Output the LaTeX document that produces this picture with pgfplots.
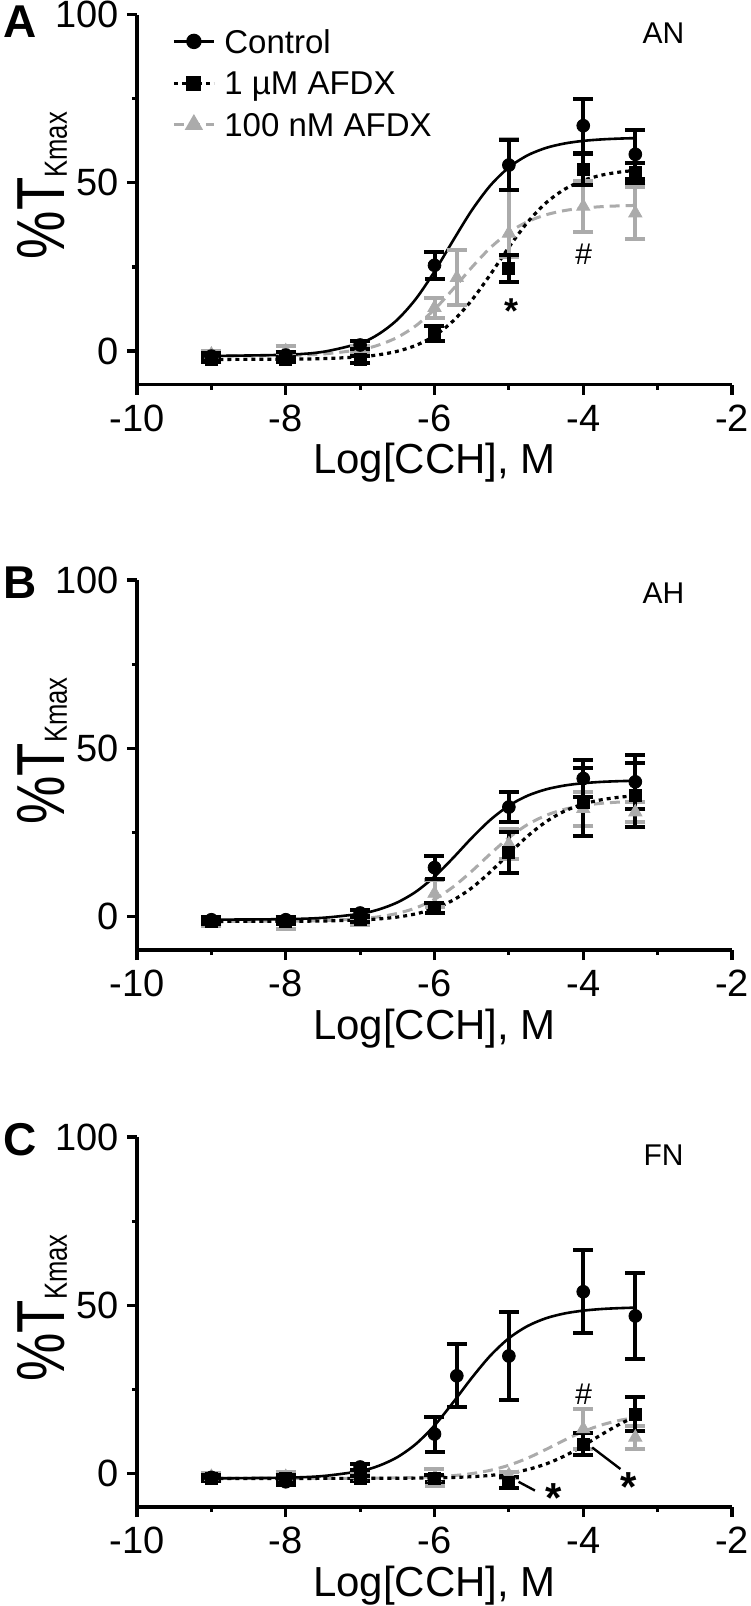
\documentclass[border=0pt]{standalone}
\usepackage{fontspec}
\setmainfont{Liberation Sans}
\usepackage{graphicx}
\usepackage{pgfplots}
\usepackage{pgfplotstable}
\pgfplotsset{compat=1.18}
\definecolor{lgray}{gray}{0.67}

% ---------------- data: panel A ----------------
\pgfplotstableread{
x y ep em
-9 -1.5 0.8 0.8
-8 -1.2 0.8 0.8
-7 1.8 1.2 1.2
-6 25.5 4 4
-5 55.3 7.4 7.4
-4 67 8 8
-3.3 58.5 7.3 7.3
}\Actl
\pgfplotstableread{
x y ep em
-9 -2.5 0.8 0.8
-8 -2.5 0.8 0.8
-7 -2.5 1 1
-6 5.2 2.2 2.2
-5 24.5 4 4
-4 54 4.5 4.5
-3.3 53 3 3
}\Aum
\pgfplotstableread{
x y ep em
-9 -1 1 1
-8 0 1.5 1.5
-7 0.5 1 1
-6 12.9 3 3
-5.7 21.8 8.2 8.2
-5 35 28 7
-4 43 7.5 7.5
-3.3 41 7.7 7.7
}\Anm
\pgfplotstableread{
x c m g
-9 -1.46 -2.49 -1.48
-8 -1.09 -2.42 -1.30
-7.5 -0.23 -2.25 -0.87
-7 2.36 -1.71 0.42
-6.75 5.06 -1.10 1.81
-6.5 9.32 -0.06 4.07
-6.25 15.52 1.69 7.54
-6 23.65 4.55 12.39
-5.75 32.87 8.95 18.42
-5.5 41.80 15.10 24.85
-5.25 49.20 22.73 30.69
-5 54.60 30.87 35.26
-4.75 58.18 38.27 38.46
-4.5 60.40 44.07 40.52
-4.25 61.72 48.12 41.78
-4 62.49 50.73 42.51
-3.75 62.93 52.32 42.94
-3.5 63.18 53.25 43.18
-3.3 63.30 53.70 43.30
}\Afit

% ---------------- data: panel B ----------------
\pgfplotstableread{
x y ep em
-9 -1 0.8 0.8
-8 -1 0.8 0.8
-7 1 1 1
-6 14.5 3.5 3.5
-5 32.5 4.5 4.5
-4 41 5.5 5.5
-3.3 40 8 8
}\Bctl
\pgfplotstableread{
x y ep em
-9 -1.5 0.8 0.8
-8 -1.5 0.8 0.8
-7 -1 0.8 0.8
-6 2.5 1.5 1.5
-5 19 6 6
-4 34 10 10
-3.3 36 9.5 9.5
}\Bum
\pgfplotstableread{
x y ep em
-9 -2 1 1
-8 -2.5 1.2 1.2
-7 -1.5 1 1
-6 6.8 4 4
-5 21.5 4.5 4.5
-4 32 5 5
-3.3 31 3 3
}\Bnm
\pgfplotstableread{
x c m g
-9 -0.98 -1.50 -1.49
-8 -0.82 -1.46 -1.42
-7.5 -0.42 -1.37 -1.25
-7 0.77 -1.08 -0.71
-6.75 2.05 -0.76 -0.12
-6.5 4.14 -0.20 0.88
-6.25 7.33 0.75 2.52
-6 11.81 2.33 5.08
-5.75 17.37 4.82 8.75
-5.5 23.30 8.45 13.42
-5.25 28.68 13.20 18.57
-5 32.91 18.59 23.39
-4.75 35.86 23.82 27.27
-4.5 37.76 28.14 30.04
-4.25 38.91 31.31 31.85
-4 39.59 33.39 32.96
-3.75 39.99 34.69 33.62
-3.5 40.21 35.46 34.00
-3.3 40.31 35.84 34.18
}\Bfit

% ---------------- data: panel C ----------------
\pgfplotstableread{
x y ep em
-9 -1.2 0.8 0.8
-8 -2.5 1 1
-7 1.9 1 1
-6 11.7 5.2 5.2
-5.7 29 9.4 9.4
-5 34.9 13 13
-4 54 12.4 12.4
-3.3 46.8 12.9 12.9
}\Cctl
\pgfplotstableread{
x y ep em
-9 -1.5 0.8 0.8
-8 -1.5 1 1
-7 -1.5 0.8 0.8
-6 -1.5 1 1
-5 -2.7 1.5 1.5
-4 8.7 3.3 3.3
-3.3 17.6 5 5
}\Cum
\pgfplotstableread{
x y ep em
-9 -1 1 1
-8 -1 1.5 1.5
-7 -1 1 1
-6 -1.3 2.5 2.5
-5 -0.5 1 1
-4 13.2 6 6
-3.3 10.7 3.5 3.5
}\Cnm
\pgfplotstableread{
x c m g
-9 -1.48 -1.50 -1.50
-8 -1.27 -1.50 -1.50
-7.5 -0.79 -1.49 -1.48
-7 0.68 -1.48 -1.45
-6.75 2.25 -1.47 -1.41
-6.5 4.81 -1.45 -1.35
-6.25 8.74 -1.41 -1.23
-6 14.24 -1.33 -1.02
-5.75 21.08 -1.21 -0.67
-5.5 28.36 -0.99 -0.06
-5.25 34.98 -0.60 0.91
-5 40.17 0.05 2.42
-4.75 43.79 1.13 4.52
-4.5 46.13 2.80 7.13
-4.25 47.55 5.19 9.92
-4 48.38 8.24 12.45
-3.75 48.87 11.60 14.43
-3.5 49.14 14.75 15.82
-3.3 49.27 16.83 16.56
}\Cfit

\pgfplotsset{
  panel/.style={
    width=297.5pt, height=185pt, scale only axis,
    xmin=-10, xmax=-2, ymin=-10, ymax=100,
    axis lines*=left,
    axis line style={line width=1.6pt, black},
    xtick={-10,-8,-6,-4,-2}, ytick={0,50,100},
    minor xtick={-9,-7,-5,-3}, minor ytick={25,75},
    tick align=outside,
    major tick length=5pt, minor tick length=2.5pt,
    tick style={line width=1.6pt, black},
    /pgf/number format/assume math mode=true,
    tick label style={font=\fontsize{19}{22}\selectfont},
    xticklabel style={inner sep=0pt, anchor=north},
    yticklabel style={inner sep=0pt, anchor=east},
    xticklabel shift=5pt,
    yticklabel shift=4pt,
    xlabel={Log[CCH], M},
    every axis x label/.style={at={(axis description cs:0.5,0)}, anchor=base, yshift=-44.5pt, font=\fontsize{21}{24}\selectfont},
    ylabel={\scalebox{0.8}[1]{\fontsize{34}{38}\selectfont\%T\raisebox{-1pt}{\fontsize{16}{18}\selectfont Kmax}}},
    every axis y label/.style={at={([xshift=-36pt,yshift=7pt]axis description cs:0,0.5)}, rotate=90, anchor=base, inner sep=0pt},
    clip=false,
  },
  ccurve/.style={black, line width=1.3pt, smooth, no marks, forget plot},
  mcurve/.style={black, line width=1.6pt, dash pattern=on 2pt off 2pt, smooth, no marks, forget plot},
  gcurve/.style={lgray, line width=1.5pt, dash pattern=on 5pt off 3pt, smooth, no marks, forget plot},
  cdata/.style={forget plot, only marks, mark=*, mark size=3.2pt, black,
    error bars/.cd, y dir=both, y explicit, error mark=-,
    error bar style={line width=2pt, black, solid},
    error mark options={rotate=90, line width=2pt, mark size=5pt, black, solid}},
  mdata/.style={forget plot, only marks, mark=square*, mark size=3pt, black,
    error bars/.cd, y dir=both, y explicit, error mark=-,
    error bar style={line width=2pt, black, solid},
    error mark options={rotate=90, line width=2pt, mark size=5pt, black, solid}},
  gdata/.style={forget plot, only marks, mark=triangle*, mark size=3.8pt, lgray,
    error bars/.cd, y dir=both, y explicit, error mark=-,
    error bar style={line width=2pt, lgray, solid},
    error mark options={rotate=90, line width=2pt, mark size=5pt, lgray, solid}},
}

\newcommand{\panelletter}[2]{\node[anchor=base west, font=\bfseries\fontsize{23}{26}\selectfont, inner sep=0pt] at ([xshift=-67pt,yshift=-#2]axis description cs:0,1) {#1};}

\begin{document}
\begin{tikzpicture}
\useasboundingbox (-68.5pt,-795.65pt) rectangle (306.5pt,7.35pt);

% ================= Panel A =================
\begin{axis}[panel, at={(0pt,0pt)}, anchor=north west,
  legend cell align=left,
  legend style={draw=none, fill=none, at={(axis description cs:0,1)}, anchor=north west,
    xshift=17.5pt, yshift=-7.25pt, inner sep=0pt,
    font=\fontsize{16.5}{19}\selectfont, row sep=9pt, column sep=4.5pt,
    nodes={inner sep=0pt, text height=11.8pt, text depth=0pt}},
  legend image code/.code={\draw[mark repeat=2, mark phase=2, #1] plot coordinates {(0pt,0pt) (10pt,0pt) (20pt,0pt)};},
]
\addlegendimage{black, line width=1.3pt, mark=*, mark size=3.2pt, mark options={solid}}
\addlegendentry{Control}
\addlegendimage{black, line width=1.5pt, dash pattern=on 2pt off 2pt, mark=square*, mark size=3pt, mark options={solid}}
\addlegendentry{1 µM AFDX}
\addlegendimage{lgray, line width=1.5pt, dash pattern=on 5pt off 3pt, mark=triangle*, mark size=3.8pt, mark options={solid}}
\addlegendentry{100 nM AFDX}
\addplot[gcurve] table[x=x, y=g] {\Afit};
\addplot[mcurve] table[x=x, y=m] {\Afit};
\addplot[ccurve] table[x=x, y=c] {\Afit};
\addplot[gdata] table[x=x, y=y, y error plus=ep, y error minus=em] {\Anm};
\addplot[mdata] table[x=x, y=y, y error plus=ep, y error minus=em] {\Aum};
\addplot[cdata] table[x=x, y=y, y error plus=ep, y error minus=em] {\Actl};
\panelletter{A}{11.5pt}
\node[font=\fontsize{15}{17}\selectfont, inner sep=0pt] at (axis cs:-2.92,94.4) {AN};
\node[anchor=base, font=\bfseries\fontsize{18}{20}\selectfont, inner sep=0pt, yshift=-9.4pt] at (axis cs:-4.96,13.9) {*};
\node[font=\itshape\fontsize{15}{17}\selectfont, inner sep=0pt] at (axis cs:-4.0,28.7) {\#};
\end{axis}

% ================= Panel B =================
\begin{axis}[panel, at={(0pt,-282.65pt)}, anchor=north west]
\addplot[gcurve] table[x=x, y=g] {\Bfit};
\addplot[mcurve] table[x=x, y=m] {\Bfit};
\addplot[ccurve] table[x=x, y=c] {\Bfit};
\addplot[gdata] table[x=x, y=y, y error plus=ep, y error minus=em] {\Bnm};
\addplot[mdata] table[x=x, y=y, y error plus=ep, y error minus=em] {\Bum};
\addplot[cdata] table[x=x, y=y, y error plus=ep, y error minus=em] {\Bctl};
\panelletter{B}{9pt}
\node[font=\fontsize{15}{17}\selectfont, inner sep=0pt] at (axis cs:-2.92,96.0) {AH};
\end{axis}

% ================= Panel C =================
\begin{axis}[panel, at={(0pt,-561.15pt)}, anchor=north west]
\addplot[gcurve] table[x=x, y=g] {\Cfit};
\addplot[mcurve] table[x=x, y=m] {\Cfit};
\addplot[ccurve] table[x=x, y=c] {\Cfit};
\addplot[gdata] table[x=x, y=y, y error plus=ep, y error minus=em] {\Cnm};
\addplot[mdata] table[x=x, y=y, y error plus=ep, y error minus=em] {\Cum};
\addplot[cdata] table[x=x, y=y, y error plus=ep, y error minus=em] {\Cctl};
\panelletter{C}{9pt}
\node[font=\fontsize{15}{17}\selectfont, inner sep=0pt] at (axis cs:-2.92,94.5) {FN};
\node[font=\itshape\fontsize{15}{17}\selectfont, inner sep=0pt] at (axis cs:-4.0,23.5) {\#};
\draw[line width=1.2pt] (axis cs:-4.87,-2.5) -- (axis cs:-4.65,-5.1);
\draw[line width=1.2pt] (axis cs:-3.88,7.7) -- (axis cs:-3.50,1.3);
\node[anchor=base, font=\bfseries\fontsize{21}{23}\selectfont, inner sep=0pt, yshift=-11pt] at (axis cs:-4.40,-5.1) {*};
\node[anchor=base, font=\bfseries\fontsize{21}{23}\selectfont, inner sep=0pt, yshift=-11pt] at (axis cs:-3.39,-1.7) {*};
\end{axis}
\end{tikzpicture}
\end{document}
